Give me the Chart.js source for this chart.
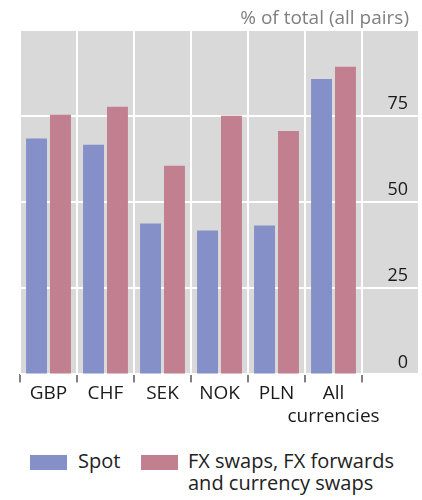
<!DOCTYPE html>
<html>
<head>
<meta charset="utf-8">
<script src="https://cdn.jsdelivr.net/npm/chart.js@4.4.1/dist/chart.umd.min.js"></script>
<style>
  body { margin: 0; background: #fff; font-family: "Open Sans", sans-serif; }
  #wrap { position: relative; width: 422px; height: 500px; }
  #chart { position: absolute; left: 0; top: 0; }
  #titulo { position: absolute; right: 13px; top: 6px; font-size: 19px; line-height: 22px; color: #7f7f7f; }
  .leg { position: absolute; top: 450px; font-size: 20px; color: #222; line-height: 22px; }
  .box { position: absolute; width: 37px; height: 15px; }
</style>
</head>
<body>
<div id="wrap">
  <canvas id="chart" width="422" height="428"></canvas>
  <div id="titulo">% of total (all pairs)</div>
  <div class="box" style="left:30px;top:455px;background:#8590c8"></div>
  <div class="leg" style="left:78px">Spot</div>
  <div class="box" style="left:141px;top:455px;background:#c27f8f"></div>
  <div class="leg" style="left:188px">FX swaps, FX forwards<br>and currency swaps</div>
</div>
<script>
var categorias = ["GBP", "CHF", "SEK", "NOK", "PLN", ["All", "currencies"], ""];
var spot = [68.5, 66.7, 43.8, 41.8, 43.2, 85.8, null];
var swaps = [75.4, 77.7, 60.6, 75.1, 70.7, 89.3, null];
var ticks_y = [0, 25, 50, 75];

// fondo gris del area del grafico
var fondo = {
    id: 'fondo',
    beforeDraw: function(chart) {
        var a = chart.chartArea;
        var ctx = chart.ctx;
        ctx.save();
        ctx.fillStyle = "#d9d9d9";
        ctx.fillRect(a.left, a.top, a.right - a.left, a.bottom - a.top);
        ctx.restore();
    }
};

function graficar(){
    var ctx = document.getElementById("chart");
    var myChart = new Chart(ctx, {
        type: 'bar',
        data: {
            labels: categorias,
            datasets: [
            {
                label: "Spot",
                data: spot,
                backgroundColor: "#8590c8",
                categoryPercentage: 0.84,
                barPercentage: 0.875
            },
            {
                label: "FX swaps, FX forwards and currency swaps",
                data: swaps,
                backgroundColor: "#c27f8f",
                categoryPercentage: 0.84,
                barPercentage: 0.875
            }]
        },
        options: {
            responsive: false,
            animation: false,
            layout: { padding: { left: 20, right: 3, top: 30, bottom: 0 } },
            plugins: {
                legend: { display: false },
                tooltip: { enabled: false },
                title: { display: false }
            },
            scales: {
                x: {
                    border: { display: false },
                    grid: {
                        color: '#ffffff',
                        lineWidth: 2,
                        // sin marca en el borde derecho
                        tickColor: function(c) { return c.index === undefined ? 'rgba(0,0,0,0)' : '#000000'; },
                        tickWidth: 1,
                        tickLength: 8
                    },
                    ticks: {
                        color: '#1a1a1a',
                        padding: 0,
                        maxRotation: 0,
                        autoSkip: false,
                        font: { family: 'Open Sans', size: 19, lineHeight: 1.2 }
                    }
                },
                y: {
                    position: 'right',
                    min: 0,
                    max: 100,
                    border: { display: false },
                    grid: { color: '#ffffff', lineWidth: 2, drawTicks: false },
                    afterBuildTicks: function(axis) {
                        axis.ticks = ticks_y.concat([100]).map(function(v) { return { value: v }; });
                    },
                    afterFit: function(axis) { axis.width = 0; },
                    ticks: {
                        mirror: true,
                        padding: -11,
                        labelOffset: -12,
                        color: '#1a1a1a',
                        font: { family: 'Open Sans', size: 18 },
                        callback: function(v) { return ticks_y.indexOf(v) >= 0 ? v : ''; }
                    }
                }
            }
        },
        plugins: [fondo]
    });
}
graficar();
</script>
</body>
</html>
